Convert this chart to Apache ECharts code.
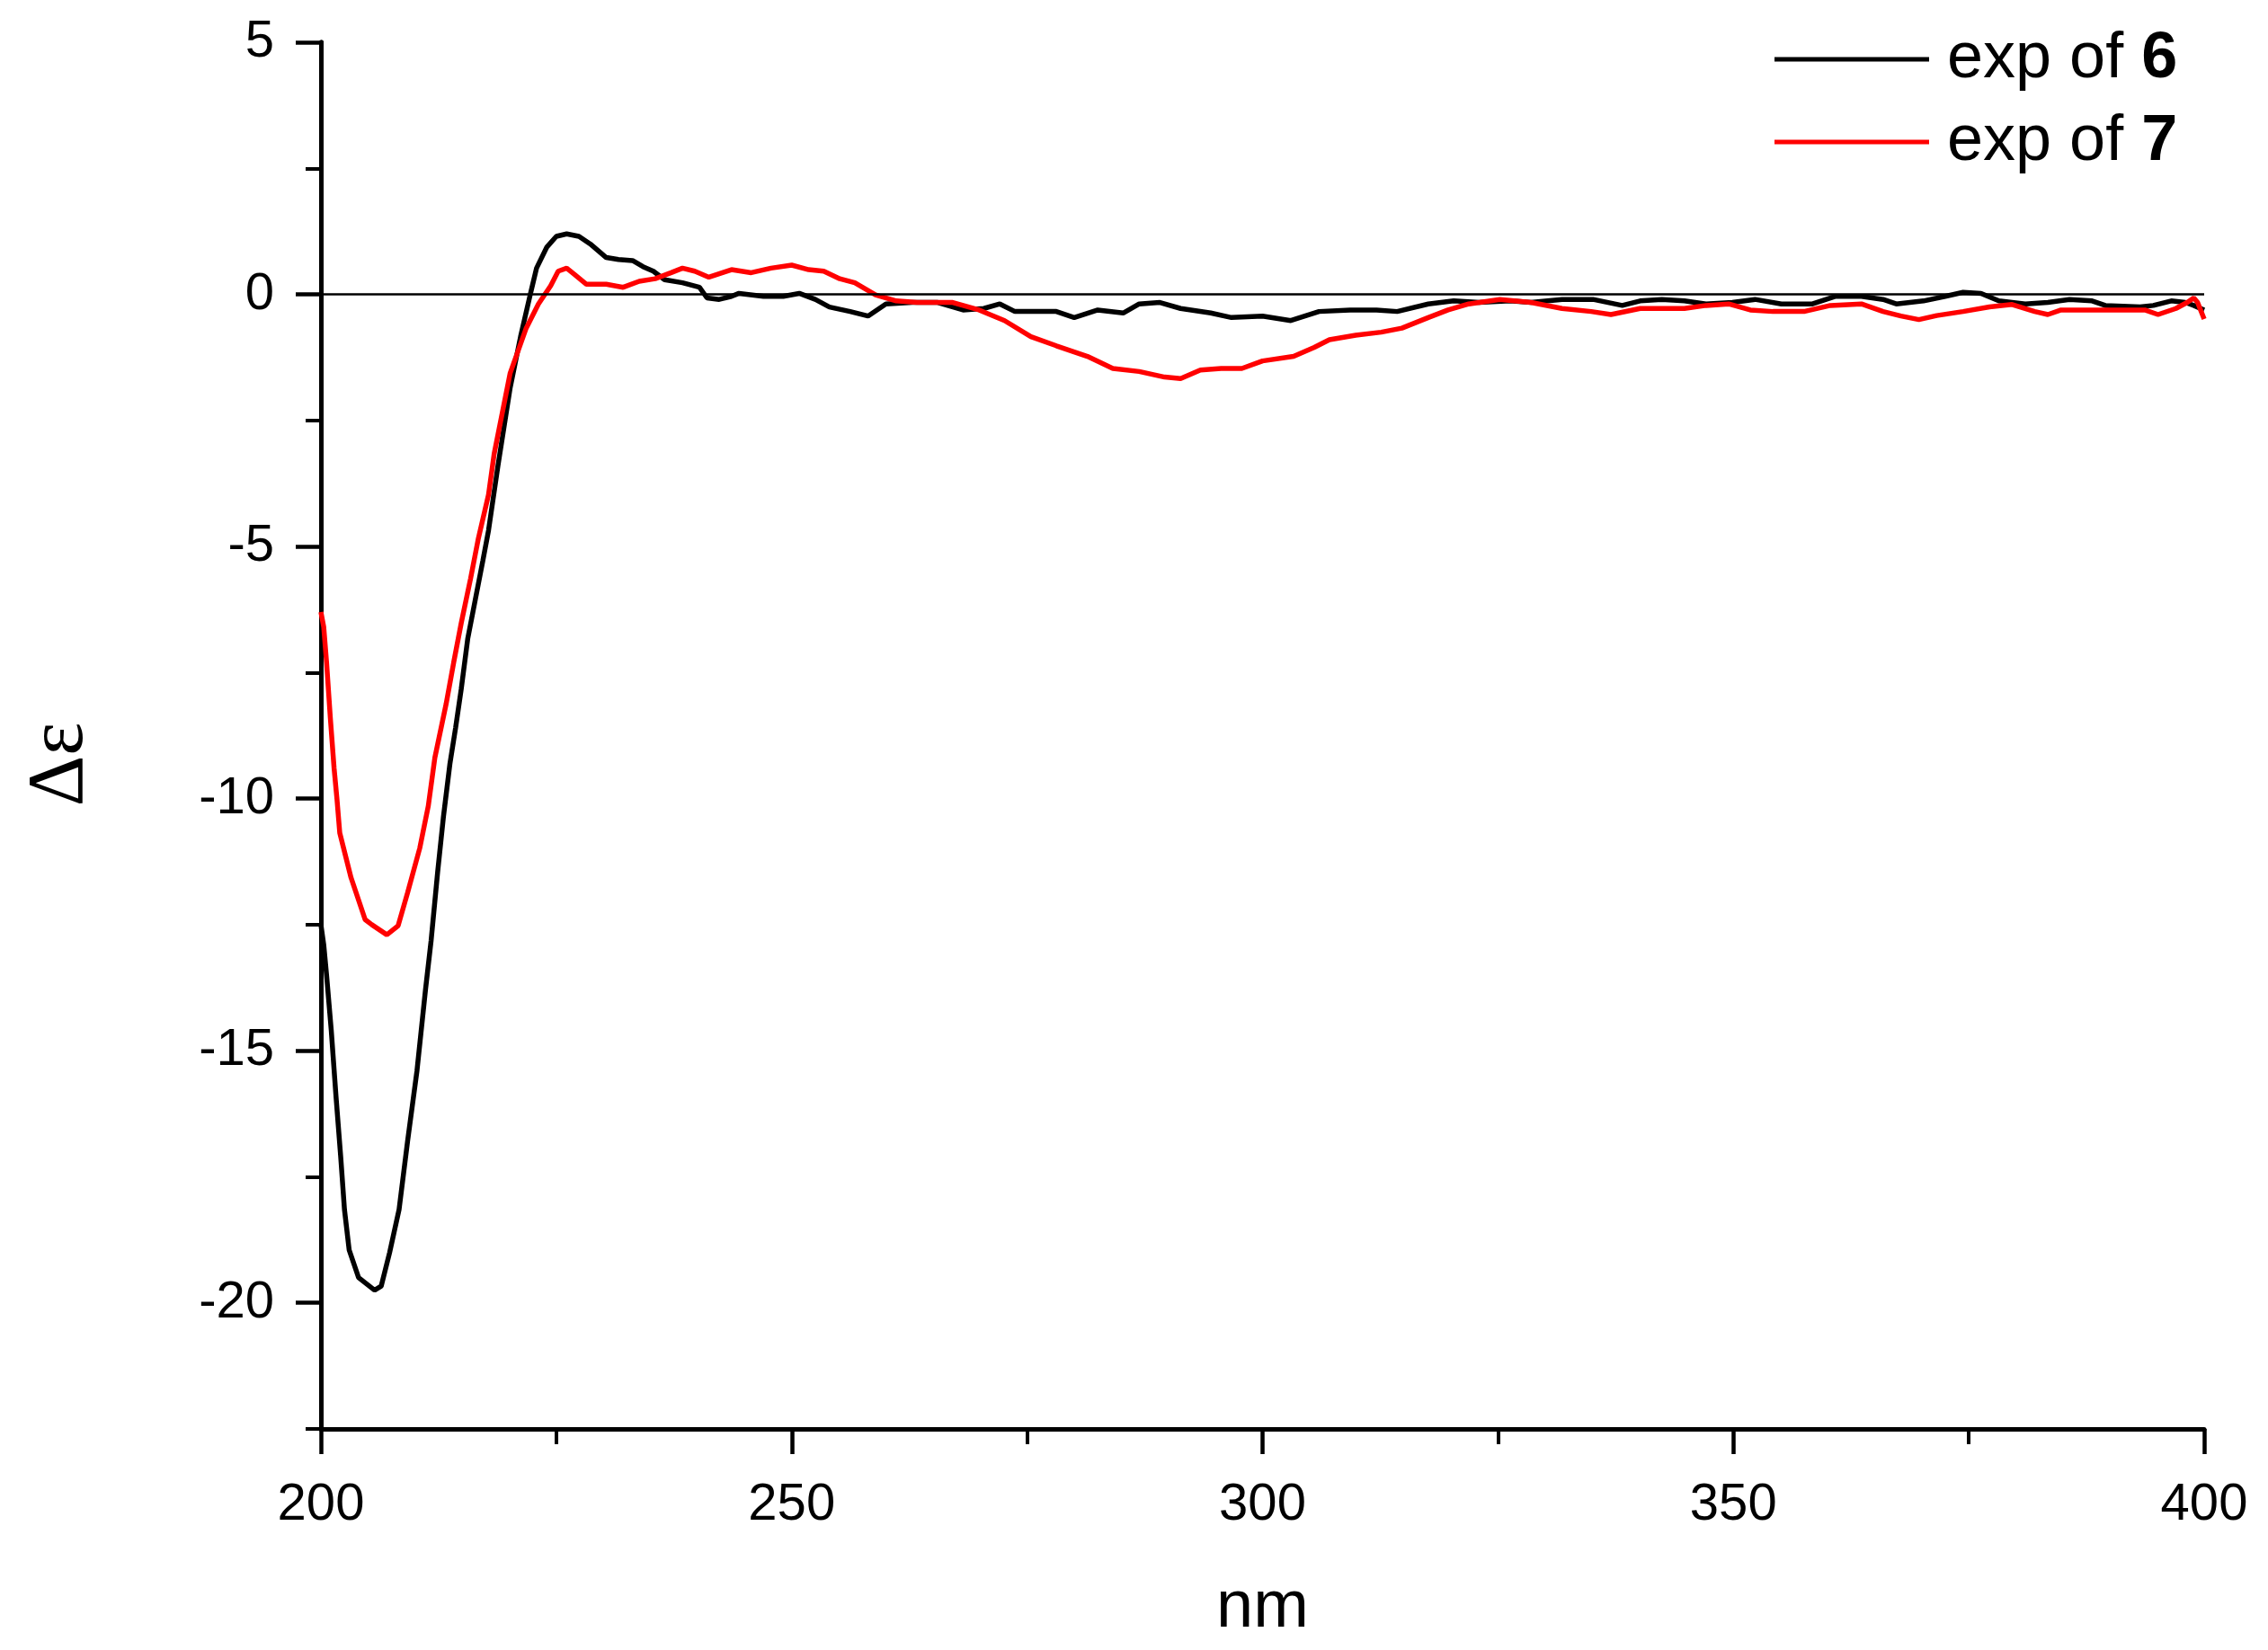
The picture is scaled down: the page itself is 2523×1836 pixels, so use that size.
<!DOCTYPE html>
<html>
<head>
<meta charset="utf-8">
<script src="https://cdn.jsdelivr.net/npm/echarts@6/dist/echarts.min.js"></script>
<style>
  html, body { margin: 0; padding: 0; background: #fff; }
  #chart { width: 2523px; height: 1836px; }
</style>
</head>
<body>
<div id="chart"></div>
<script>
// CD spectra, exp of 6 (black) / exp of 7 (red)
const nm6 = [200, 200.3, 200.6, 201.1, 201.6, 202.1, 202.5, 203.0, 204.0, 205.7, 206.4, 207.3, 208.3, 209.2, 210.2, 211.1, 211.7, 212.4, 213.0, 213.7,
  214.3, 214.9, 215.6, 216.4, 217.2, 217.8, 218.8, 220.1, 221.2, 222.3, 222.9, 224.0, 225.0, 226.1, 227.4, 228.6, 230.3, 231.6, 233.1, 234.2, 235.3, 236.5, 238.4, 240.2,
  241.0, 242.3, 243.6, 244.4, 247.0, 249.1, 250.8, 252.5, 254.0, 256.2, 258.1, 260.0, 262.8, 265.5, 268.2, 270.4, 272.1, 273.7, 278.1, 280.0,
  282.5, 285.2, 286.9, 289.1, 291.3, 294.5, 296.7, 300.0, 303.0, 306.0, 309.3, 312.1, 314.3, 317.6, 320.3, 323.0, 326.3, 328.5, 331.8, 335.1,
  338.2, 340.1, 342.4, 344.8, 347.1, 349.9, 352.3, 355.1, 358.4, 360.8, 363.6, 365.9, 367.3, 370.2, 372.5, 374.4, 376.3, 378.2, 381.0, 383.4,
  385.7, 388.1, 389.5, 393.2, 394.6, 396.5, 398.0, 398.9, 400];
const de6 = [-12.5, -12.9, -13.5, -14.6, -15.9, -17.1, -18.15, -18.95, -19.5, -19.75, -19.67, -19.0, -18.15, -16.8, -15.4, -13.8, -12.82, -11.45, -10.38, -9.31,
  -8.6, -7.83, -6.82, -6.05, -5.28, -4.68, -3.4, -1.85, -0.84, 0.05, 0.52, 0.94, 1.15, 1.2, 1.15, 1.0, 0.73, 0.69, 0.67, 0.55, 0.46, 0.29, 0.23, 0.14,
  -0.07, -0.1, -0.04, 0.02, -0.04, -0.04, 0.02, -0.1, -0.25, -0.34, -0.43, -0.19, -0.16, -0.16, -0.31, -0.28, -0.19, -0.34, -0.34, -0.46,
  -0.31, -0.37, -0.19, -0.16, -0.28, -0.37, -0.46, -0.43, -0.52, -0.34, -0.31, -0.31, -0.34, -0.19, -0.13, -0.16, -0.13, -0.16, -0.1, -0.1,
  -0.22, -0.13, -0.1, -0.13, -0.19, -0.16, -0.1, -0.19, -0.19, -0.04, -0.04, -0.1, -0.19, -0.13, -0.04, 0.04, 0.02, -0.13, -0.19, -0.16,
  -0.1, -0.13, -0.22, -0.25, -0.22, -0.13, -0.16, -0.22, -0.31];

const nm7 = [200, 200.3, 200.6, 201.0, 201.4, 201.7, 202.0, 203.2, 204.7, 205.4, 207.0, 208.2, 209.2, 210.5, 211.4, 212.1, 213.3, 214.1, 214.9, 215.9, 216.7, 217.8, 218.4, 220.1, 221.8,
  223.1, 224.4, 225.2, 226.1, 226.9, 228.2, 230.3, 232.1, 233.8, 235.5, 237.2, 238.4, 239.7, 241.2, 243.6, 245.7, 247.8, 250.0, 251.8, 253.4,
  255.1, 256.7, 258.9, 261.1, 263.3, 267.1, 269.9, 272.6, 275.4, 278.1, 281.4, 284.1, 286.9, 289.6, 291.3, 293.4, 295.6, 297.8, 300.0, 303.3,
  305.5, 307.1, 309.9, 312.6, 314.8, 317.6, 319.7, 321.9, 325.2, 328.5, 331.8, 334.9, 337.0, 340.1, 344.8, 347.1, 349.5, 351.8, 354.2, 357.5,
  360.3, 363.6, 365.9, 367.8, 369.7, 371.6, 374.4, 377.2, 379.6, 382.0, 383.4, 384.8, 389.5, 393.7, 395.1, 397.0, 398.2, 398.9, 399.3, 400];
const de7 = [-6.3, -6.6, -7.3, -8.4, -9.4, -10.0, -10.68, -11.57, -12.4, -12.5, -12.7, -12.52, -11.87, -10.98, -10.15, -9.19, -8.12, -7.3, -6.52, -5.63, -4.86, -3.97, -3.16, -1.56, -0.67,
  -0.19, 0.17, 0.46, 0.52, 0.4, 0.2, 0.2, 0.14, 0.26, 0.31, 0.43, 0.52, 0.46, 0.34, 0.49, 0.43, 0.52, 0.58, 0.49, 0.46,
  0.31, 0.23, -0.01, -0.13, -0.16, -0.16, -0.31, -0.52, -0.84, -1.02, -1.23, -1.47, -1.53, -1.64, -1.67, -1.5, -1.47, -1.47, -1.32, -1.23,
  -1.05, -0.9, -0.81, -0.75, -0.67, -0.46, -0.31, -0.19, -0.1, -0.16, -0.28, -0.34, -0.4, -0.28, -0.28, -0.22, -0.19, -0.31, -0.34, -0.34,
  -0.22, -0.19, -0.34, -0.43, -0.5, -0.42, -0.34, -0.25, -0.2, -0.34, -0.4, -0.31, -0.31, -0.31, -0.4, -0.28, -0.16, -0.07, -0.16, -0.49];

const yMajor = [-20, -15, -10, -5, 0, 5];
const yMinor = [-22.5, -17.5, -12.5, -7.5, -2.5, 2.5];

const FONT = "'Liberation Sans', Arial, sans-serif";
const pair = (xs, ys) => xs.map((x, i) => [x, ys[i]]);

const chart = echarts.init(document.getElementById('chart'));
const yBase = {
    type: 'value', min: -22.5, max: 5, position: 'left',
    axisLine: { show: true, onZero: false, lineStyle: { color: '#000', width: 5 } },
    splitLine: { show: false }
};
chart.setOption({
    backgroundColor: '#ffffff',
    animation: false,
    grid: { left: 357, right: 71, top: 47, bottom: 246 },
    legend: {
        orient: 'vertical', left: 1969, top: 25, icon: 'rect', itemWidth: 172, itemHeight: 5, itemGap: 20,
        data: ['exp of 6', 'exp of 7'],
        formatter: n => 'exp of {b|' + n.slice(-1) + '}',
        textStyle: {
            fontFamily: FONT, fontSize: 72, color: '#000', lineHeight: 72, padding: [0, 0, 0, 15],
            rich: { b: { fontFamily: FONT, fontSize: 72, fontWeight: 'bold', color: '#000' } }
        }
    },
    xAxis: {
        type: 'value', min: 200, max: 400, interval: 50,
        name: 'nm', nameLocation: 'middle', nameGap: 163,
        nameTextStyle: { fontFamily: FONT, fontSize: 74, color: '#000' },
        axisLine: { onZero: false, lineStyle: { color: '#000', width: 5 } },
        axisTick: { length: 28, lineStyle: { width: 4.5, color: '#000' } },
        minorTick: { show: true, splitNumber: 2, length: 17, lineStyle: { width: 4, color: '#000' } },
        axisLabel: { fontFamily: FONT, fontSize: 58, color: '#000', margin: 56 },
        splitLine: { show: false }
    },
    yAxis: [
        Object.assign({}, yBase, {
            name: 'Δε', nameLocation: 'middle', nameGap: 245,
            nameTextStyle: { fontFamily: "'Liberation Serif', 'Times New Roman', serif", fontSize: 88, color: '#000', padding: [0, 64, 0, 0] },
            axisTick: { show: true, length: 28, customValues: yMajor, lineStyle: { width: 4.5, color: '#000' } },
            axisLabel: { fontFamily: FONT, fontSize: 58, color: '#000', margin: 52, customValues: yMajor }
        }),
        Object.assign({}, yBase, {
            axisTick: { show: true, length: 17, customValues: yMinor, lineStyle: { width: 4, color: '#000' } },
            axisLabel: { show: false }
        })
    ],
    series: [
        {
            name: 'exp of 6', type: 'line', data: pair(nm6, de6), symbol: 'none',
            lineStyle: { color: '#000', width: 5.5 }, itemStyle: { color: '#000' },
            markLine: {
                silent: true, symbol: 'none', label: { show: false },
                lineStyle: { color: '#000', width: 2.5, type: 'solid' },
                data: [{ yAxis: 0 }]
            }
        },
        {
            name: 'exp of 7', type: 'line', data: pair(nm7, de7), symbol: 'none',
            lineStyle: { color: '#ff0000', width: 5.5 }, itemStyle: { color: '#ff0000' }
        }
    ]
});
</script>
</body>
</html>
